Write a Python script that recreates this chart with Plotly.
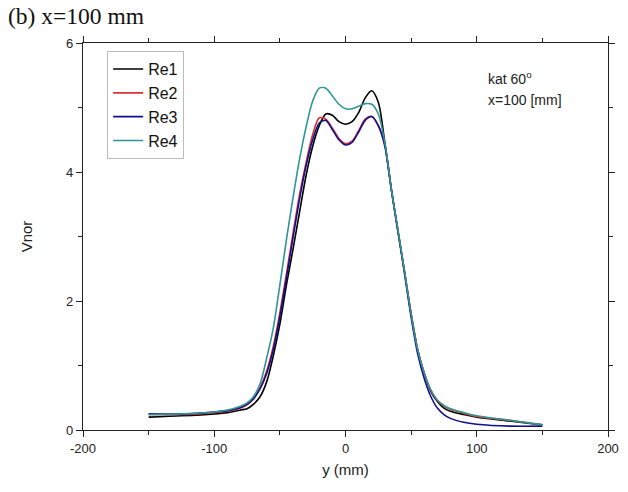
import plotly.graph_objects as go

y_mm = [-150, -125, -100, -90, -80, -75, -70, -65, -60, -55, -50, -45, -40, -35, -30, -25, -20, -15, -10, -5,
        0, 5, 10, 15, 20, 25, 30, 35, 40, 45, 50, 55, 60, 65, 70, 75, 80, 90, 100, 125, 150]

re1 = [0.20, 0.22, 0.25, 0.27, 0.31, 0.33, 0.40, 0.52, 0.75, 1.15, 1.64, 2.25, 2.80, 3.38, 3.95, 4.40, 4.72, 4.90, 4.88, 4.78,
       4.74, 4.78, 4.92, 5.15, 5.26, 5.08, 4.45, 3.72, 3.08, 2.45, 1.80, 1.24, 0.88, 0.60, 0.44, 0.34, 0.29, 0.24, 0.20, 0.14, 0.08]
re2 = [0.24, 0.24, 0.27, 0.29, 0.34, 0.39, 0.48, 0.66, 0.92, 1.30, 1.82, 2.42, 3.05, 3.65, 4.15, 4.58, 4.84, 4.82, 4.68, 4.52,
       4.44, 4.48, 4.64, 4.82, 4.86, 4.72, 4.42, 3.72, 3.08, 2.45, 1.80, 1.25, 0.88, 0.62, 0.46, 0.37, 0.32, 0.26, 0.21, 0.15, 0.08]
re3 = [0.25, 0.25, 0.28, 0.30, 0.35, 0.40, 0.49, 0.64, 0.88, 1.25, 1.76, 2.36, 2.98, 3.58, 4.10, 4.50, 4.76, 4.80, 4.66, 4.50,
       4.42, 4.46, 4.62, 4.80, 4.86, 4.72, 4.40, 3.72, 3.08, 2.42, 1.75, 1.18, 0.80, 0.52, 0.34, 0.24, 0.18, 0.12, 0.09, 0.06, 0.06]
re4 = [0.24, 0.25, 0.28, 0.31, 0.37, 0.42, 0.52, 0.72, 1.12, 1.58, 2.25, 2.95, 3.60, 4.20, 4.70, 5.10, 5.30, 5.30, 5.18, 5.05,
       4.98, 4.98, 5.02, 5.06, 5.05, 4.90, 4.45, 3.72, 3.10, 2.45, 1.80, 1.24, 0.88, 0.62, 0.46, 0.38, 0.33, 0.27, 0.22, 0.15, 0.08]

series = [("Re1", re1, "#000000"), ("Re2", re2, "#e03030"), ("Re3", re3, "#10108c"), ("Re4", re4, "#2e9696")]

fig = go.Figure()
for name, vals, col in series:
    fig.add_trace(go.Scatter(x=y_mm, y=vals, name=name, mode="lines", legendgroup=name,
                             line=dict(color=col, width=1.6, shape="spline", smoothing=0.8)))

axis_common = dict(showline=True, linecolor="#222", linewidth=1.3, mirror="allticks", ticks="outside",
                   ticklen=6, tickwidth=1.2, tickcolor="#222", showgrid=False, zeroline=False, automargin=False,
                   tickfont=dict(family="Liberation Sans, Arial", size=13, color="#222"))

fig.update_xaxes(range=[-200, 200], tickvals=[-200, -100, 0, 100, 200], ticktext=["-200", "-100", "0", "100", "200"],
                 minor=dict(dtick=50, ticks="outside", ticklen=4, tickcolor="#222", tickwidth=1.2),
                 title=dict(text="y (mm)", font=dict(family="Liberation Sans, Arial", size=15, color="#222"), standoff=9),
                 **axis_common)
fig.update_yaxes(range=[0, 6], tickvals=[0, 2, 4, 6],
                 minor=dict(dtick=1, ticks="outside", ticklen=4, tickcolor="#222", tickwidth=1.2),
                 title=dict(text="Vnor", font=dict(family="Liberation Sans, Arial", size=15, color="#222"), standoff=29),
                 **axis_common)

fig.add_annotation(text="kat 60<sup>o</sup>", xref="paper", yref="paper", x=0.768, y=0.910,
                   xanchor="left", yanchor="middle", showarrow=False,
                   font=dict(family="Liberation Sans, Arial", size=14, color="#222"))
fig.add_annotation(text="x=100 [mm]", xref="paper", yref="paper", x=0.768, y=0.853,
                   xanchor="left", yanchor="middle", showarrow=False,
                   font=dict(family="Liberation Sans, Arial", size=14, color="#222"))

# page body has an 8px default margin, so the figure is 8px smaller and margins shifted
fig.update_layout(
    width=620, height=484,
    margin=dict(l=75, r=20, t=35, b=62),
    paper_bgcolor="white", plot_bgcolor="white",
    title=dict(text="(b) x=100 mm", xref="container", yref="container", x=0.0, xanchor="left",
               y=1.0, yanchor="top", pad=dict(t=0, l=0, b=0, r=0),
               font=dict(family="Liberation Serif, Times New Roman", size=23.5, color="#111")),
    legend=dict(x=0.046, y=0.979, xanchor="left", yanchor="top", bgcolor="white",
                bordercolor="#bbb", borderwidth=1, tracegroupgap=0,
                font=dict(family="Liberation Sans, Arial", size=16, color="#111")),
    showlegend=True,
)

fig.write_html("out.html")
